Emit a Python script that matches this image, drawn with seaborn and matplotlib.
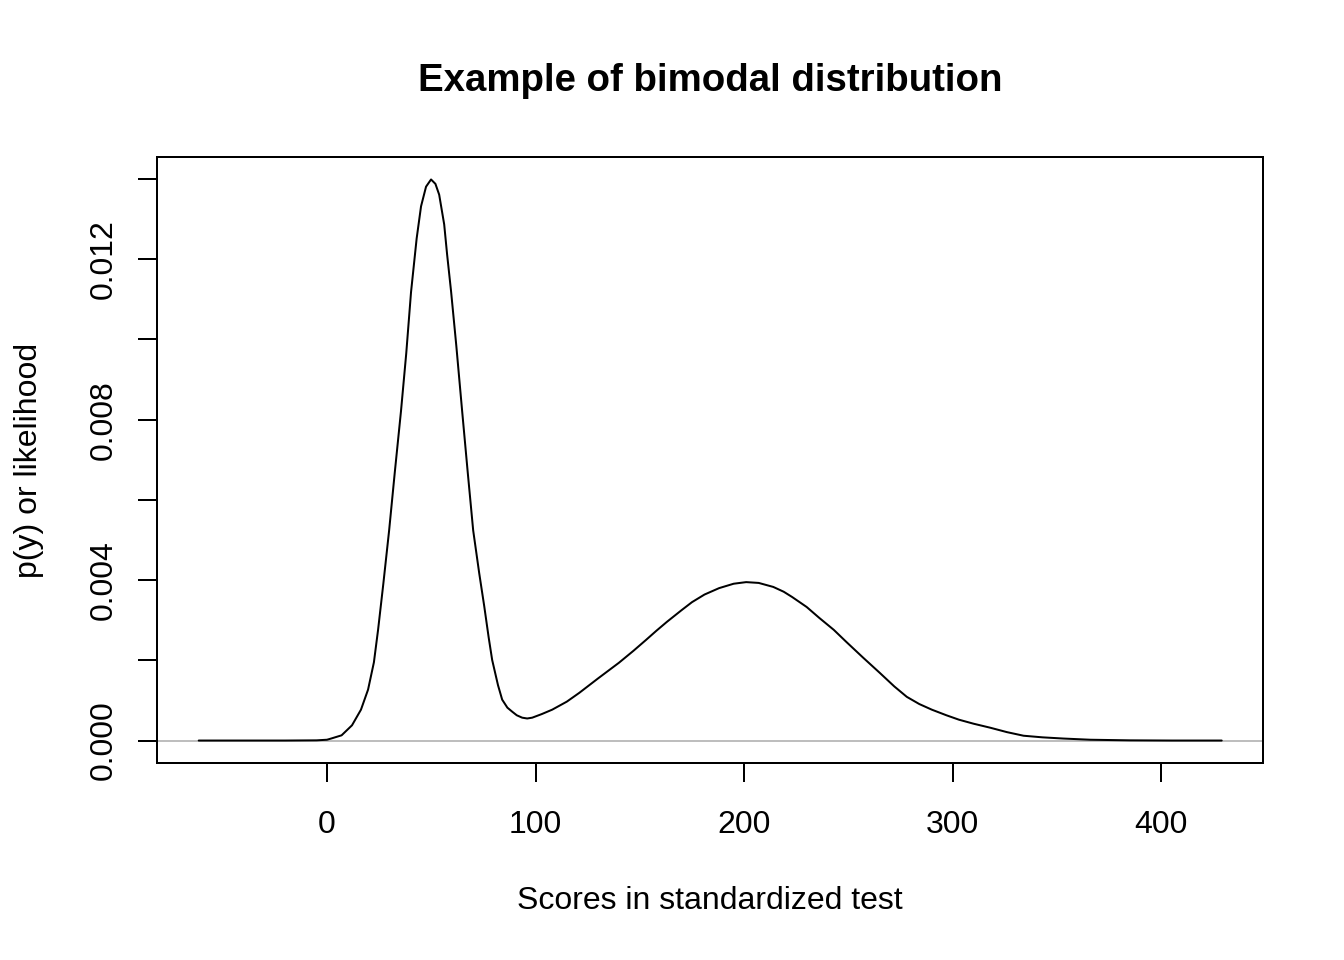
import matplotlib
matplotlib.use("Agg")
import matplotlib.pyplot as plt
import seaborn as sns
import pandas as pd

# values (score, density)
scores = [-61.5, -40, -20, -5, 0, 2, 7, 12, 16.3, 19.7, 22.5, 24.5, 27, 29.8,
          32.5, 35.5, 38, 40.3, 43, 45.1, 47.5, 49.9, 52, 53.8, 56.2, 57.6,
          59.5, 62, 64.8, 67.5, 70.1, 73, 75.4, 77.5, 79.2, 82, 84, 86.5,
          88.8, 91, 93.6, 96, 98.4, 103, 108, 115, 121, 130, 140, 147, 153,
          158, 163, 170, 175, 181, 188, 195, 201, 207, 214, 219, 223, 230,
          236, 243, 249, 257, 265, 272, 278, 284, 290, 297, 303, 310, 318,
          326, 334, 343, 353, 366, 385, 405, 429]
density = [0, 0, 0, 0.000005, 0.00002, 0.00005, 0.00013, 0.00038, 0.00077,
           0.00127, 0.00195, 0.00276, 0.0039, 0.00524, 0.00668, 0.00822,
           0.00965, 0.01118, 0.01252, 0.01332, 0.01381, 0.01399, 0.01388,
           0.01361, 0.01287, 0.01212, 0.0112, 0.00985, 0.00822, 0.00668,
           0.00524, 0.00417, 0.00335, 0.00258, 0.00201, 0.00138, 0.00102,
           0.00082, 0.00072, 0.00063, 0.00057, 0.00055, 0.00057, 0.00066,
           0.00077, 0.00097, 0.00119, 0.00155, 0.00194, 0.00224, 0.00251,
           0.00274, 0.00296, 0.00325, 0.00345, 0.00364, 0.0038, 0.00391,
           0.00395, 0.00393, 0.00383, 0.00371, 0.00358, 0.00333, 0.00306,
           0.00276, 0.00246, 0.00207, 0.00169, 0.00135, 0.00109, 0.00091,
           0.00077, 0.00063, 0.00052, 0.00042, 0.00032, 0.00021, 0.00012,
           0.00008, 0.00005, 0.00002, 0.000005, 0, 0]

x_ticks = [0, 100, 200, 300, 400]
y_ticks = [0, 0.002, 0.004, 0.006, 0.008, 0.010, 0.012, 0.014]
y_tick_labels = ["0.000", "", "0.004", "", "0.008", "", "0.012", ""]

df = pd.DataFrame({"score": scores, "density": density})

sns.set_style("white")
plt.rcParams["font.family"] = ["Liberation Sans", "DejaVu Sans"]
plt.rcParams["text.color"] = "black"
plt.rcParams["axes.labelcolor"] = "black"
plt.rcParams["xtick.color"] = "black"
plt.rcParams["ytick.color"] = "black"

fig = plt.figure(figsize=(7, 5), dpi=192)
ax = fig.add_axes([157 / 1344, 1 - 763 / 960, (1263 - 157) / 1344, (763 - 157) / 960])

ax.axhline(0, color="#bebebe", lw=0.75, zorder=1)
sns.lineplot(data=df, x="score", y="density", color="black", linewidth=0.75,
             ax=ax, zorder=2)

ax.set_xlim(-81.5, 448.8)
ax.set_ylim(-0.00056, 0.01455)

ax.set_xticks(x_ticks)
ax.set_xticklabels([str(t) for t in x_ticks], fontsize=12)
ax.set_yticks(y_ticks)
ax.set_yticklabels(y_tick_labels, fontsize=12, rotation=90, va="center")

ax.tick_params(axis="both", direction="out", length=7.2, width=0.75,
               color="black", labelcolor="black",
               bottom=True, left=True, top=False, right=False)
ax.tick_params(axis="x", pad=10.5)
ax.tick_params(axis="y", pad=7)

for s in ax.spines.values():
    s.set_visible(True)
    s.set_color("black")
    s.set_linewidth(0.75)

ax.set_xlabel("Scores in standardized test", fontsize=12, labelpad=17, color="black")
ax.set_ylabel("p(y) or likelihood", fontsize=12, labelpad=17, color="black")
fig.text(710 / 1344, 1 - 81 / 960, "Example of bimodal distribution",
         ha="center", va="center", fontsize=14.4, fontweight="bold", color="black")

fig.savefig("out.png", dpi=192)
